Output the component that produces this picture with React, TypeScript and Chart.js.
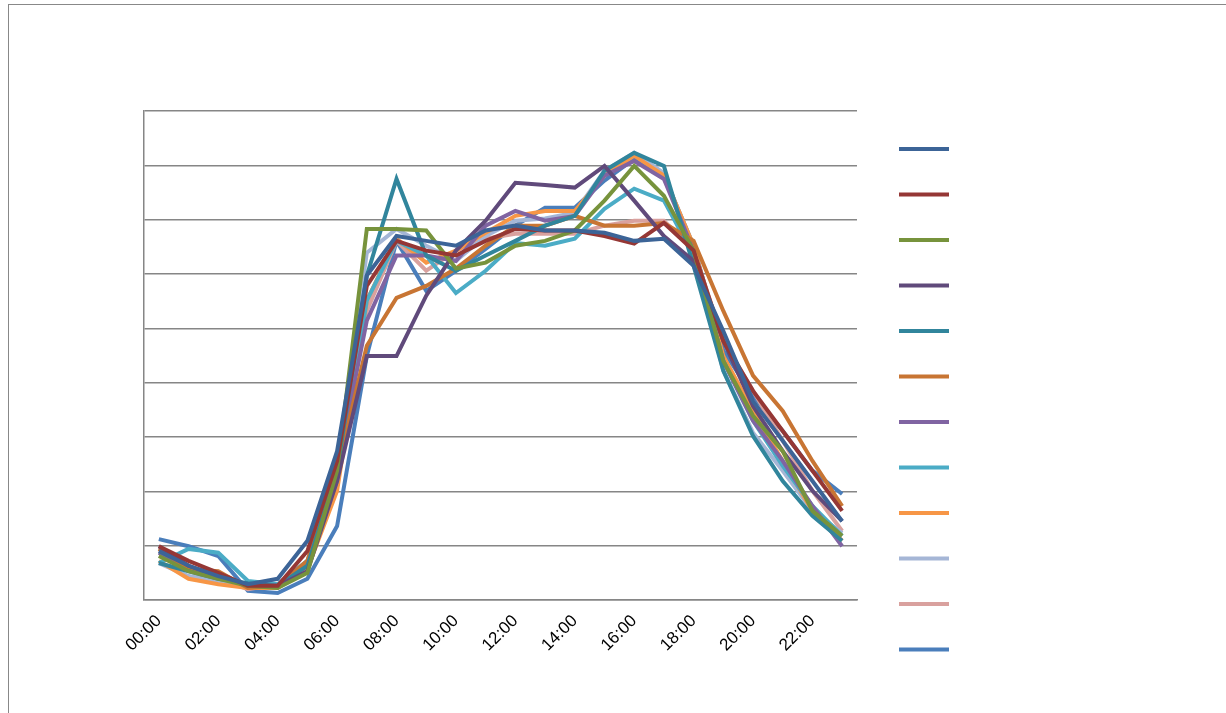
import React, { useRef, useEffect } from "react";
import { Chart, registerables } from "chart.js";

Chart.register(...registerables);

const hours = [
  "00:00", "01:00", "02:00", "03:00", "04:00", "05:00", "06:00", "07:00",
  "08:00", "09:00", "10:00", "11:00", "12:00", "13:00", "14:00", "15:00",
  "16:00", "17:00", "18:00", "19:00", "20:00", "21:00", "22:00", "23:00",
];

const s1 = [0.9, 0.63, 0.44, 0.29, 0.39, 1.09, 2.74, 5.97, 6.7, 6.61, 6.52, 6.8, 6.89, 6.8, 6.8, 6.76, 6.61, 6.65, 6.15, 4.95, 3.66, 2.93, 2.19, 1.45];
const s2 = [0.99, 0.72, 0.5, 0.26, 0.26, 0.9, 2.56, 5.78, 6.61, 6.43, 6.34, 6.61, 6.83, 6.8, 6.8, 6.7, 6.56, 6.94, 6.43, 4.77, 3.85, 3.11, 2.38, 1.64];
const s3 = [0.81, 0.53, 0.39, 0.26, 0.22, 0.5, 2.38, 6.83, 6.83, 6.8, 6.1, 6.21, 6.52, 6.61, 6.8, 7.35, 7.99, 7.44, 6.43, 4.4, 3.39, 2.74, 1.64, 1.18];
const s4 = [0.99, 0.63, 0.44, 0.26, 0.26, 0.53, 2.19, 4.49, 4.49, 5.6, 6.43, 6.98, 7.68, 7.64, 7.59, 7.99, 7.35, 6.7, 6.24, 4.77, 3.57, 2.74, 2.01, 1.45];
const s5 = [0.68, 0.53, 0.39, 0.31, 0.26, 0.63, 2.38, 5.97, 7.75, 6.34, 6.06, 6.34, 6.61, 6.89, 7.07, 7.9, 8.23, 7.99, 6.15, 4.22, 3.02, 2.19, 1.55, 1.09];
const s6 = [0.94, 0.57, 0.53, 0.22, 0.26, 0.72, 2.38, 4.68, 5.56, 5.78, 6.1, 6.52, 6.89, 6.89, 7.07, 6.89, 6.89, 6.94, 6.61, 5.32, 4.13, 3.48, 2.56, 1.73];
const s7 = [0.87, 0.57, 0.44, 0.26, 0.26, 0.63, 2.38, 5.14, 6.34, 6.34, 6.24, 6.89, 7.16, 6.98, 7.07, 7.81, 8.08, 7.75, 6.43, 4.4, 3.3, 2.56, 1.73, 0.99];
const s8 = [0.68, 0.94, 0.87, 0.35, 0.29, 0.72, 2.19, 5.51, 6.61, 6.34, 5.65, 6.06, 6.57, 6.52, 6.65, 7.2, 7.57, 7.35, 6.34, 4.4, 3.3, 2.47, 1.73, 1.18];
const s9 = [0.72, 0.39, 0.29, 0.22, 0.22, 0.57, 2.01, 5.51, 6.65, 6.21, 6.43, 6.76, 7.07, 7.16, 7.16, 7.81, 8.18, 7.81, 6.52, 4.49, 3.48, 2.56, 1.64, 1.09];
const s10 = [0.68, 0.44, 0.35, 0.26, 0.26, 0.63, 2.47, 6.39, 6.83, 6.52, 6.24, 6.7, 6.98, 7.02, 7.13, 7.9, 8.23, 7.86, 6.43, 4.22, 3.08, 2.38, 1.64, 1.23];
const s11 = [0.94, 0.63, 0.39, 0.2, 0.29, 0.72, 2.38, 5.32, 6.61, 6.06, 6.43, 6.65, 6.74, 6.74, 6.74, 6.89, 6.98, 6.98, 6.43, 4.77, 3.85, 2.93, 2.01, 1.27];
const s12 = [1.12, 0.99, 0.81, 0.17, 0.13, 0.39, 1.36, 4.49, 6.61, 5.69, 6.06, 6.46, 6.89, 7.22, 7.22, 7.72, 8.12, 7.81, 6.52, 4.59, 3.76, 3.11, 2.38, 1.95];

const seriesValues = [s1, s2, s3, s4, s5, s6, s7, s8, s9, s10, s11, s12];
const seriesColors = [
  "#3c6497", "#953735", "#77933c", "#604a7b", "#31859c", "#c87533",
  "#8064a2", "#4bacc6", "#f79646", "#a5b6d6", "#d9a19e", "#4a7ebb",
];

// legend has line swatches only, no text
const lineLegend = {
  id: "lineLegend",
  afterDraw(chart: Chart) {
    const ctx = chart.ctx;
    ctx.save();
    ctx.lineWidth = 4;
    chart.data.datasets.forEach((ds, i) => {
      const y = 144 + i * 45.5;
      ctx.strokeStyle = ds.borderColor as string;
      ctx.beginPath();
      ctx.moveTo(890, y);
      ctx.lineTo(940, y);
      ctx.stroke();
    });
    ctx.restore();
  },
};

const App: React.FC = () => {
  const chartRef = useRef<HTMLCanvasElement>(null);
  useEffect(() => {
    if (!chartRef.current) return;
    const chart = new Chart(chartRef.current, {
      type: "line",
      data: {
        labels: hours,
        datasets: seriesValues.map((v, i) => ({
          label: "S" + (i + 1),
          data: v,
          borderColor: seriesColors[i],
          backgroundColor: seriesColors[i],
          borderWidth: 4,
          pointRadius: 0,
          fill: false,
          tension: 0,
        })),
      },
      options: {
        animation: false,
        responsive: false,
        layout: { padding: { left: 135, right: 370, top: 106, bottom: 0 } },
        plugins: { legend: { display: false }, tooltip: { enabled: false } },
        scales: {
          x: {
            offset: true,
            grid: { display: false },
            border: { color: "#868686", width: 1.5 },
            afterFit: (s: any) => { s.height = 114; },
            ticks: {
              autoSkip: false,
              maxRotation: 45,
              minRotation: 45,
              color: "#000",
              font: { family: "Liberation Sans", size: 17 },
              callback: (_v: any, i: number) => (i % 2 === 0 ? hours[i] : ""),
            },
          },
          y: {
            min: 0,
            max: 9,
            ticks: { display: false, stepSize: 1 },
            grid: { color: "#868686", lineWidth: 1.5, drawTicks: false },
            border: { color: "#868686", width: 1.5 },
          },
        },
      },
      plugins: [lineLegend],
    });
    return () => chart.destroy();
  }, []);

  return (
    <div style={{ position: "fixed", left: 8, top: 4, width: 1240, height: 720, border: "1px solid #888", background: "#fff" }}>
      <canvas ref={chartRef} width={1218} height={709} />
    </div>
  );
};

export default App;
